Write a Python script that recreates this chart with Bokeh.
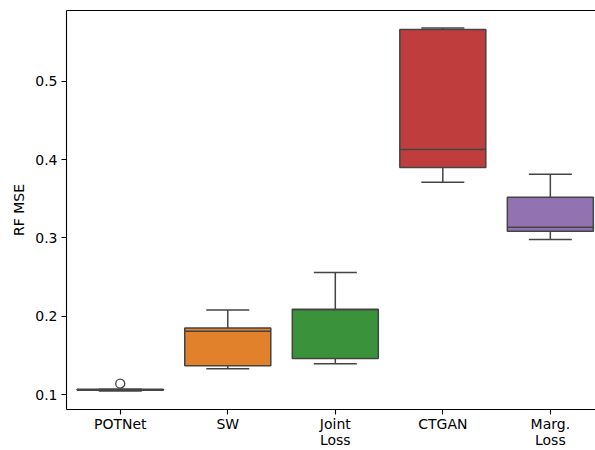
from bokeh.plotting import figure
from bokeh.models import Range1d, FixedTicker, LinearAxis, ColumnDataSource
from bokeh.embed import file_html
from bokeh.resources import INLINE

categories = ["POTNet", "SW", "Joint\nLoss", "CTGAN", "Marg.\nLoss"]
colors = ["#3274a1", "#e1812c", "#3a923a", "#c03d3e", "#9372b2"]
whisker_low = [0.1045, 0.133, 0.1395, 0.371, 0.298]
q1 = [0.1055, 0.137, 0.146, 0.390, 0.3085]
median = [0.106, 0.181, 0.2085, 0.413, 0.3136]
q3 = [0.107, 0.185, 0.209, 0.5662, 0.352]
whisker_high = [0.107, 0.208, 0.256, 0.568, 0.3815]
outlier_cat = [0]
outlier_val = [0.114]
y_ticks = [0.1, 0.2, 0.3, 0.4, 0.5]

LINE = "#444444"
FONT = "DejaVu Sans"

x = list(range(len(categories)))
src = ColumnDataSource(dict(x=x, q1=q1, q3=q3, med=median, lo=whisker_low, hi=whisker_high,
                            color=colors,
                            xl=[v - 0.4 for v in x], xr=[v + 0.4 for v in x],
                            cl=[v - 0.2 for v in x], cr=[v + 0.2 for v in x]))

p = figure(width=595, height=450, output_backend="svg", toolbar_location=None,
           x_range=Range1d(-0.5, 4.42), y_range=Range1d(0.081, 0.5904),
           min_border_left=66, min_border_right=0, min_border_top=10, min_border_bottom=0)
p.outline_line_color = None
p.grid.visible = False
p.background_fill_color = "white"

# whiskers
p.segment(x0="x", y0="hi", x1="x", y1="q3", source=src, line_color=LINE, line_width=1.5)
p.segment(x0="x", y0="lo", x1="x", y1="q1", source=src, line_color=LINE, line_width=1.5)
p.segment(x0="cl", y0="hi", x1="cr", y1="hi", source=src, line_color=LINE, line_width=1.5)
p.segment(x0="cl", y0="lo", x1="cr", y1="lo", source=src, line_color=LINE, line_width=1.5)
# boxes
p.quad(left="xl", right="xr", bottom="q1", top="q3", source=src, fill_color="color",
       line_color=LINE, line_width=1.5)
p.segment(x0="xl", y0="med", x1="xr", y1="med", source=src, line_color=LINE, line_width=1.5)
# outliers
p.scatter(x=outlier_cat, y=outlier_val, size=9, marker="circle", fill_color=None,
          line_color=LINE, line_width=1.3)

for ax in (p.xaxis[0], p.yaxis[0]):
    ax.axis_line_color = "black"
    ax.axis_line_width = 1.1
    ax.major_tick_line_color = "black"
    ax.major_tick_line_width = 1.1
    ax.major_tick_out = 5
    ax.major_tick_in = 0
    ax.minor_tick_line_color = None
    ax.major_label_text_font = FONT
    ax.major_label_text_font_size = "14px"
    ax.major_label_text_color = "black"

p.xaxis.ticker = FixedTicker(ticks=x)
p.xaxis.major_label_overrides = {i: c for i, c in enumerate(categories)}
p.xaxis.major_label_standoff = 1
p.xaxis.major_label_text_line_height = 1.0
p.yaxis.ticker = FixedTicker(ticks=y_ticks)
p.yaxis.major_label_overrides = {t: f"{t:.1f}" for t in y_ticks}
p.yaxis.major_label_standoff = 4
p.yaxis.axis_label = "RF MSE"
p.yaxis.axis_label_text_font = FONT
p.yaxis.axis_label_text_font_size = "14px"
p.yaxis.axis_label_text_font_style = "normal"
p.yaxis.axis_label_text_color = "black"

top = LinearAxis(ticker=FixedTicker(ticks=[]), major_label_text_font_size="0px",
                 major_tick_line_color=None, minor_tick_line_color=None,
                 axis_line_color="black", axis_line_width=1.1)
p.add_layout(top, "above")

open("out.html", "w").write(file_html(p, INLINE))
